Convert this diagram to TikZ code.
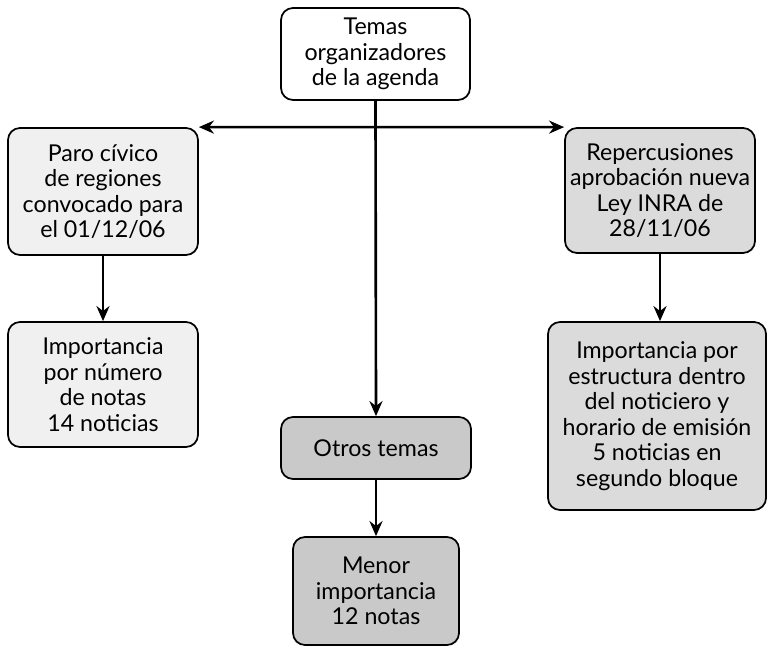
\documentclass[tikz,border=0pt]{standalone}
\usepackage{fontspec}
\setmainfont{Lato}
\usetikzlibrary{arrows.meta, positioning}

\begin{document}
\begin{tikzpicture}[
		font=\fontsize{13.2}{14.5}\selectfont,
		% Style for the theme boxes
		tema/.style={
			draw=black, line width=1pt,
			rounded corners=0.24cm,
			align=center, inner sep=2pt,
			minimum width=3.8cm
		},
		flecha/.style={-{Stealth[length=0.3cm, width=0.26cm]}, line width=1.5pt}
		]
		\useasboundingbox (0,0) rectangle (15.36,12.96);
		
		% --- 1. ROOT ---
		\node[tema, fill=white, minimum width=3.78cm, minimum height=1.84cm] (raiz) at (7.51, 11.88)
			{Temas\\organizadores\\de la agenda};
		
		% --- 2. LEFT BRANCH ---
		\node[tema, fill=black!6, minimum height=2.54cm] (paro) at (2.06, 9.13)
			{Paro cívico\\de regiones\\convocado para\\el 01/12/06};
		\node[tema, fill=black!6, minimum height=2.5cm] (numero) at (2.06, 5.27)
			{Importancia\\por número\\de notas\\14 noticias};
		
		% --- 3. RIGHT BRANCH ---
		\node[tema, fill=black!14, minimum height=2.5cm] (ley) at (13.2, 9.15)
			{Repercusiones\\aprobación nueva\\Ley INRA de\\28/11/06};
		\node[tema, fill=black!14, minimum width=4.36cm, minimum height=3.76cm] (estructura) at (13.14, 4.64)
			{Importancia por\\estructura dentro\\del noticiero y\\horario de emisión\\5 noticias en\\segundo bloque};
		
		% --- 4. MIDDLE BRANCH ---
		\node[tema, fill=black!21, minimum height=1.24cm] (otros) at (7.52, 4.0) {Otros temas};
		\node[tema, fill=black!21, minimum width=3.32cm, minimum height=2.16cm] (menor) at (7.52, 1.14)
			{Menor\\importancia\\12 notas};
		
		% --- ARROWS ---
		\draw[flecha, {Stealth[length=0.3cm, width=0.26cm]}-{Stealth[length=0.3cm, width=0.26cm]}]
			(paro.north east) -- (ley.north west);
		\draw[flecha] (raiz.south) -- (otros.north);
		\draw[flecha] (paro.south) -- (numero.north);
		\draw[flecha] (ley.south) -- (ley.south |- estructura.north);
		\draw[flecha] (otros.south) -- (menor.north);
		
	\end{tikzpicture}
\end{document}
